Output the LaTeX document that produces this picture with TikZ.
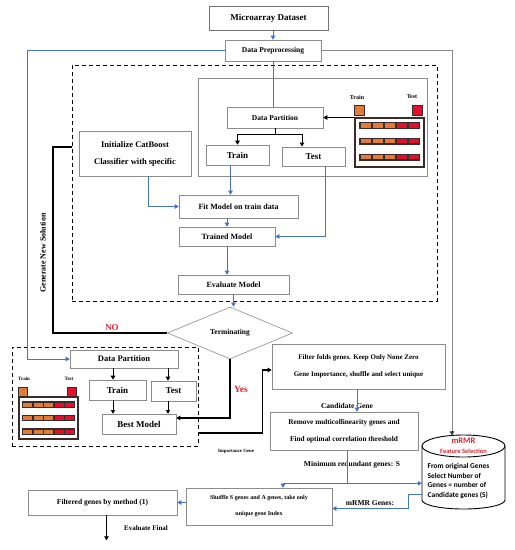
\documentclass[tikz,border=0pt]{standalone}
\usepackage{fontspec}
\setmainfont{Liberation Serif}
\newfontfamily\carlito{Carlito}
\usetikzlibrary{shapes.geometric,arrows.meta,calc}
\definecolor{bgray}{HTML}{8C8C8C}
\definecolor{cblue}{HTML}{4472C4}
\definecolor{lblue}{HTML}{8EA9DB}
\definecolor{corange}{HTML}{E07B39}
\definecolor{cred}{HTML}{E3102C}
\definecolor{cdark}{HTML}{3A2A2A}
\definecolor{tred}{HTML}{D9262E}
\begin{document}
\begin{tikzpicture}[x=1pt,y=-1pt,
 box/.style={draw=bgray, line width=0.6pt, fill=white, inner sep=0pt, align=center},
 fs/.style={font=\bfseries\fontsize{#1}{#1}\selectfont},
 fsl/.style={font=\bfseries\fontsize{#1}{17}\selectfont},
 bl/.style={draw=cblue, line width=0.6pt},
 bla/.style={bl, -{Triangle[length=4pt,width=4.5pt]}},
 bk/.style={draw=black, line width=1.3pt},
 bka/.style={bk, -{Triangle[length=4pt,width=4.5pt]}},
 dbox/.style={draw=black, line width=1pt, dash pattern=on 4pt off 3pt, inner sep=0pt},
 lbl/.style={inner sep=0pt}
]
\useasboundingbox (0,0) rectangle (515,550);

% dashed containers
\node[dbox, minimum width=365pt, minimum height=236pt] (dbig) at (254.5,183) {};
\node[dbox, minimum width=186pt, minimum height=99pt] (dsmall) at (105,396.5) {};

% top boxes
\node[box, draw=gray!90!black, fs=9, minimum width=119pt, minimum height=24pt] (micro) at (268.5,18) {Microarray Dataset};
\node[box, fs=7.5, minimum width=96pt, minimum height=21pt] (prep) at (273,50.5) {Data Preprocessing};

% inner gray box
\node[box, minimum width=229pt, minimum height=98pt] (inner) at (312.5,127) {};

\node[box, fs=7.5, minimum width=96pt, minimum height=21pt] (dp1) at (275,117.5) {Data Partition};
\node[box, fs=9, minimum width=63pt, minimum height=20pt] (train1) at (237.5,155) {Train};
\node[box, fs=9, minimum width=63pt, minimum height=19pt] (test1) at (313.5,156.5) {Test};

% legend 1
\node[lbl, fs=6] (lt1) at (357,97) {Train};
\node[lbl, fs=6] (lte1) at (412,97) {Test};
\node[draw=cdark, fill=corange, line width=0.8pt, minimum size=10pt, inner sep=0pt] (sq1) at (359,110) {};
\node[draw=cdark, fill=cred, line width=0.8pt, minimum size=10pt, inner sep=0pt] (sq2) at (417.5,110) {};
\node[draw=cdark, line width=1.3pt, minimum width=69pt, minimum height=49pt, inner sep=0pt] (lg1) at (389.5,142.5) {};
\foreach \r in {125.5,141,157}{
  \fill[cdark] (359,\r-3.5) rectangle (420,\r+3.5);
  \foreach \i/\c in {0/corange,1/corange,2/corange,3/cred,4/cred}
    \fill[\c] (360.5+\i*12,\r-2.2) rectangle (371+\i*12,\r+2.2);
}

% left column
\node[box, fsl=8.5, minimum width=112pt, minimum height=45pt] (init) at (135,153.5) {Initialize CatBoost\\Classifier with specific};
\node[box, fs=8, minimum width=119pt, minimum height=23pt] (fit) at (238.5,206.5) {Fit Model on train data};
\node[box, fs=8, minimum width=96pt, minimum height=19pt, text depth=-2pt] (trained) at (227,236.5) {Trained Model};
\node[box, fs=8, minimum width=111pt, minimum height=19pt, text depth=-2pt] (eval) at (233.5,284.5) {Evaluate Model};

\node[diamond, draw=bgray, line width=0.6pt, fill=white, minimum width=125pt, minimum height=52pt, inner sep=0pt, aspect=2.4, fs=7.5] (term) at (230,333) {Terminating};

% lower-left block
\node[box, fs=8.5, minimum width=108pt, minimum height=18pt] (dp2) at (124,359) {Data Partition};
\node[box, fs=9, minimum width=57pt, minimum height=20pt] (train2) at (117.5,390) {Train};
\node[box, fs=9, minimum width=45pt, minimum height=20pt] (test2) at (173.5,391) {Test};
\node[box, fs=9, minimum width=74pt, minimum height=20pt] (best) at (139,424) {Best Model};

\node[lbl, fs=5] (lt2) at (24,379) {Train};
\node[lbl, fs=5] (lte2) at (69,379) {Test};
\node[draw=cdark, fill=corange, line width=0.8pt, minimum size=9pt, inner sep=0pt] (sq3) at (22.5,392) {};
\node[draw=cdark, fill=cred, line width=0.8pt, minimum size=9pt, inner sep=0pt] (sq4) at (72,392) {};
\node[draw=cdark, line width=1.2pt, minimum width=59pt, minimum height=42pt, inner sep=0pt] (lg2) at (48.5,418) {};
\foreach \r in {404.5,418,431.5}{
  \fill[cdark] (22,\r-3.2) rectangle (75,\r+3.2);
  \foreach \i/\c in {0/corange,1/corange,2/corange,3/cred,4/cred}
    \fill[\c] (23.3+\i*10.4,\r-2) rectangle (32.3+\i*10.4,\r+2);
}

% right lower boxes
\node[box, fsl=7, minimum width=173pt, minimum height=45pt] (filter) at (358.5,366.5) {Filter folds genes. Keep Only None Zero\\Gene Importance, shuffle and select unique};
\node[box, fsl=7.3, minimum width=148pt, minimum height=38pt] (remove) at (344,431) {Remove multicollinearity genes and\\Find optimal correlation threshold};
\node[box, font=\bfseries\fontsize{6}{16}\selectfont, minimum width=146pt, minimum height=37pt] (shuffle) at (259,506.5) {Shuffle S genes and A genes, take only\\unique gene Index};
\node[box, fs=7.5, minimum width=149pt, minimum height=25pt] (filtered) at (102.5,502.5) {Filtered genes by method (1)};

% mRMR cylinder
\node[inner sep=0pt, minimum width=83pt, minimum height=75pt] (mrmr) at (463.5,472) {};
\draw[draw=black, line width=0.9pt, fill=white] (422,446) -- (422,500) arc[start angle=180, end angle=0, x radius=41.5, y radius=9] -- (505,446);
\draw[draw=black, line width=0.9pt, fill=white] (463.5,446) ellipse [x radius=41.5, y radius=11];
\node[lbl, text=tred, font=\carlito\bfseries\fontsize{8.5}{8.5}\selectfont] (mt1) at (463.5,441) {mRMR};
\node[lbl, text=tred, font=\carlito\bfseries\fontsize{6.5}{6.5}\selectfont] (mt2) at (463.5,451.5) {Feature Selection};
\node[lbl, anchor=north west, align=left, font=\carlito\bfseries\fontsize{7.4}{9.7}\selectfont] (mt3) at (427.5,463) {From original Genes\\Select Number of\\Genes = number of\\Candidate genes (S)};

% labels
\node[lbl, text=tred, fs=9] (no) at (112,328) {NO};
\node[lbl, text=tred, fs=9.5] (yes) at (241,389) {Yes};
\node[lbl, fs=8, rotate=90] (gen) at (43,253) {Generate New Solution};
\node[lbl, fs=4.8] (imp) at (236,451) {Importance Gene};
\node[lbl, fs=7.5] (cand) at (347,406) {Candidate Gene};
\node[lbl, fs=7.5] (minr) at (352,465) {Minimum redundant genes: S};
\node[lbl, fs=7.5] (mg) at (370,503) {mRMR Genes:};
\node[lbl, fs=7] (evf) at (146,528) {Evaluate Final};

% connectors top
\draw[bla] (micro.south -| prep.north) -- (prep.north);
\draw[draw=lblue, line width=0.6pt, -{Triangle[length=4pt,width=4.5pt]}, color=cblue] (prep.west) -| (27,359) -- (dp2.west);
\draw[draw=bgray, line width=0.6pt] (prep.east) -| ($(mrmr.north)+(-11.5,0)$);
\draw[draw=black!80, -{Triangle[length=4pt,width=4.5pt]}, line width=0.6pt] ($(mrmr.north)+(-11.5,-2)$) -- ($(mrmr.north)+(-11.5,1)$);
\draw[draw=cblue, line width=1pt] (prep.south) -- (prep.south |- dp1.north);

% data partition 1
\coordinate (sp1) at ($(dp1.south)+(0,6)$);
\draw[bk, line width=1pt] (dp1.south) -- (sp1);
\draw[bk, line width=1pt] (sp1 -| train1.north) -- (sp1 -| 302,0);
\draw[bka, line width=1pt] (sp1 -| train1.north) -- (train1.north);
\draw[bka, line width=1pt] (sp1 -| 302,0) -- (302,146.5);
\draw[bka, line width=1pt] (lg1.west |- dp1.east) -- (dp1.east);

% model pipeline
\draw[bla] ([xshift=13pt]init.south) |- (fit.west);
\draw[bla] ([xshift=-7pt]train1.south) -- ([xshift=-7pt]train1.south |- fit.north);
\draw[bla] ([xshift=11.5pt]test1.south) |- (trained.east);
\draw[bla] (trained.north |- fit.south) -- (trained.north);
\draw[bla] (trained.south) -- (trained.south |- eval.north);
\draw[bla] (eval.south) -- (eval.south |- term.north);

% NO loop
\coordinate (g1) at (53,147);
\draw[bk] (term.west) -| (g1) -- (g1 -| dbig.west);

% Yes
\draw[bka] (term.south) |- ([yshift=6pt]best.east);

% lower-left
\draw[bka, line width=1pt] ([xshift=-4.5pt]dp2.south -| train2.north) -- ([xshift=-4.5pt]train2.north);
\draw[bka, line width=1pt] ([xshift=-5.5pt]dp2.south -| test2.north) -- ([xshift=-5.5pt]test2.north);
\draw[-{Triangle[length=3.5pt,width=4pt]}, line width=0.6pt] ([xshift=-4.5pt]train2.south) -- ([xshift=-4.5pt]train2.south |- best.north);
\draw[-{Triangle[length=3.5pt,width=4pt]}, line width=0.6pt] ([xshift=-5.5pt]test2.south) -- ([xshift=-5.5pt]test2.south |- best.north);

% importance gene
\draw[bka] ([yshift=-36.5pt]dsmall.east) -| ($(filter.west)+(-9,3.5)$) -- ($(filter.west)+(0,3.5)$);

% right-lower flow
\draw[bla] ([xshift=-1.5pt]filter.south) -- ([xshift=-1.5pt]filter.south |- remove.north);
\coordinate (j) at ($(remove.south)+(3,33)$);
\draw[bl] ($(remove.south)+(3,0)$) -- (j);
\draw[bla] (j) -| ([xshift=24pt]shuffle.north);
\draw[bla] (j) -- (j -| mrmr.west);
\draw[bla] ([yshift=-22pt]mrmr.west) -- ++(-14,0) |- ([yshift=-2pt]shuffle.east);
\draw[bla] (shuffle.west |- filtered.east) -- (filtered.east);
\coordinate (fend) at ($(filtered.south)+(4,25)$);
\draw[bka] ($(filtered.south)+(4,0)$) -- (fend);
\end{tikzpicture}
\end{document}
